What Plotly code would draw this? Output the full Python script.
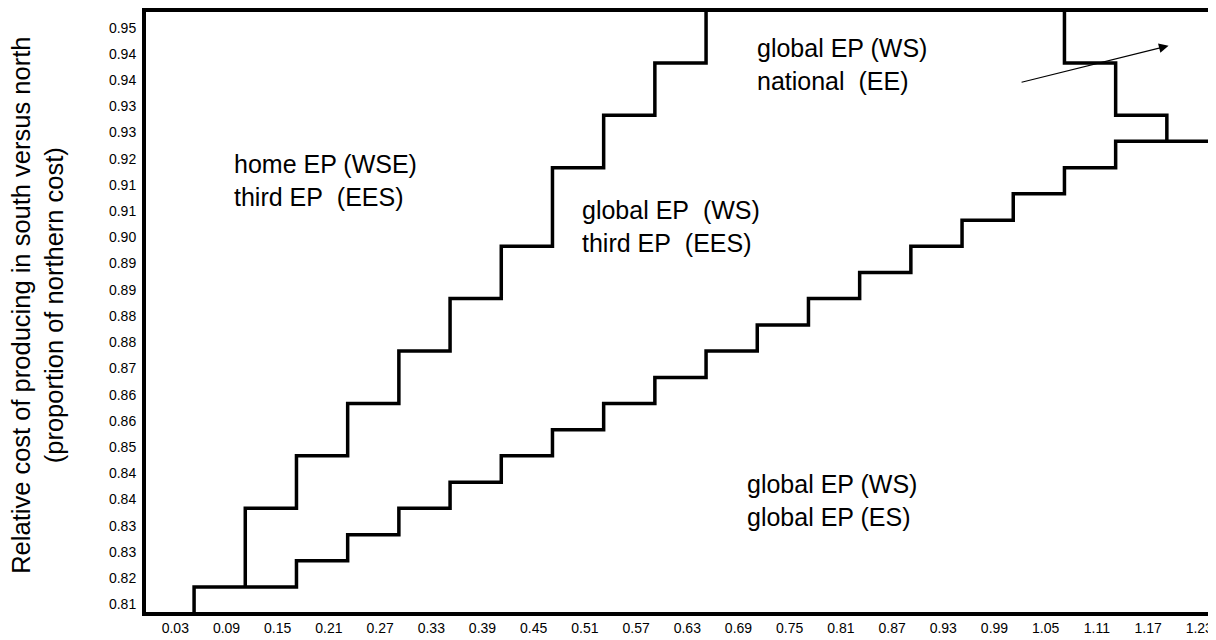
import plotly.graph_objects as go

# ---------------- data ----------------
x_tick_vals = [0.03, 0.09, 0.15, 0.21, 0.27, 0.33, 0.39, 0.45, 0.51, 0.57, 0.63,
               0.69, 0.75, 0.81, 0.87, 0.93, 0.99, 1.05, 1.11, 1.17, 1.23]
x_tick_text = ["0.03", "0.09", "0.15", "0.21", "0.27", "0.33", "0.39", "0.45", "0.51",
               "0.57", "0.63", "0.69", "0.75", "0.81", "0.87", "0.93", "0.99", "1.05",
               "1.11", "1.17", "1.23"]

y_tick_vals = [0.8125, 0.81875, 0.825, 0.83125, 0.8375, 0.84375, 0.85, 0.85625,
               0.8625, 0.86875, 0.875, 0.88125, 0.8875, 0.89375, 0.9, 0.90625,
               0.9125, 0.91875, 0.925, 0.93125, 0.9375, 0.94375, 0.95]
y_tick_text = ["0.81", "0.82", "0.83", "0.83", "0.84", "0.84", "0.85", "0.86",
               "0.86", "0.87", "0.88", "0.88", "0.89", "0.89", "0.90", "0.91",
               "0.91", "0.92", "0.93", "0.93", "0.94", "0.94", "0.95"]

# lower staircase (global EP (WS) / global EP (ES) boundary)
lower_x = [0.052, 0.172, 0.232, 0.292, 0.352, 0.412, 0.472, 0.532, 0.592, 0.652,
           0.712, 0.772, 0.832, 0.892, 0.952, 1.012, 1.072, 1.132, 1.30]
lower_y = [0.80, 0.8166, 0.8229, 0.8291, 0.8354, 0.8416, 0.8479, 0.8541, 0.8604,
           0.8666, 0.8729, 0.8791, 0.8854, 0.8916, 0.8979, 0.9041, 0.9104, 0.9166,
           0.9229]

# upper staircase (home EP boundary)
upper_x = [0.112, 0.172, 0.232, 0.292, 0.352, 0.412, 0.472, 0.532, 0.592, 0.652, 0.652]
upper_y = [0.8166, 0.8354, 0.8479, 0.8604, 0.8729, 0.8854, 0.8979, 0.9166, 0.9291,
           0.9416, 0.97]

# top-right staircase (national boundary)
right_x = [1.072, 1.132, 1.192, 1.192]
right_y = [0.97, 0.9416, 0.9291, 0.9229]

region_labels = [
    ("home EP (WSE)<br>third EP\u00a0\u00a0(EES)", 0.097, 0.9135),
    ("global EP\u00a0\u00a0(WS)<br>third EP\u00a0\u00a0(EES)", 0.504, 0.9025),
    ("global EP (WS)<br>national\u00a0\u00a0(EE)", 0.709, 0.9412),
    ("global EP (WS)<br>global EP (ES)", 0.698, 0.8373),
]

arrow_from = (1.020, 0.9369)
arrow_to = (1.194, 0.9457)

FONT = "Arial, Liberation Sans, sans-serif"

fig = go.Figure()
line_style = dict(color="black", width=3.5, shape="vh")
for xs, ys in [(lower_x, lower_y), (upper_x, upper_y), (right_x, right_y)]:
    fig.add_trace(go.Scatter(x=xs, y=ys, mode="lines", line=line_style,
                             hoverinfo="skip", showlegend=False))

for text, x, y in region_labels:
    fig.add_annotation(x=x, y=y, xref="x", yref="y", text=text, showarrow=False,
                       xanchor="left", yanchor="middle", align="left",
                       font=dict(family=FONT, size=25, color="black"))

fig.add_annotation(x=arrow_to[0], y=arrow_to[1], ax=arrow_from[0], ay=arrow_from[1],
                   xref="x", yref="y", axref="x", ayref="y", text="",
                   showarrow=True, arrowhead=2, arrowsize=1.6, arrowwidth=1.2,
                   arrowcolor="black")

# y-axis title as a rotated annotation
fig.add_annotation(x=-0.1015, y=0.511, xref="paper", yref="paper",
                   text="Relative cost of producing in south versus north<br>(proportion of northern cost)",
                   textangle=-90, showarrow=False, xanchor="center", yanchor="middle",
                   borderpad=0,
                   font=dict(family=FONT, size=25.5, color="black"))

# the page adds an 8px body margin, so the figure is drawn 8px smaller
fig.update_layout(
    width=1208, height=632,
    margin=dict(l=138, r=0, t=4, b=28),
    paper_bgcolor="white", plot_bgcolor="white",
    font=dict(family=FONT, color="black"),
    xaxis=dict(range=[-0.00434, 1.2496], tickvals=x_tick_vals, ticktext=x_tick_text,
               showgrid=False, zeroline=False, showline=True, linecolor="black",
               linewidth=4, mirror=True, ticks="", tickfont=dict(size=14, family=FONT)),
    yaxis=dict(range=[0.81066, 0.95375], tickvals=y_tick_vals, ticktext=y_tick_text,
               showgrid=False, zeroline=False, showline=True, linecolor="black",
               linewidth=4, mirror=False, ticks="", ticklabelstandoff=3,
               tickfont=dict(size=14, family=FONT)),
)

fig.write_html("out.html")
